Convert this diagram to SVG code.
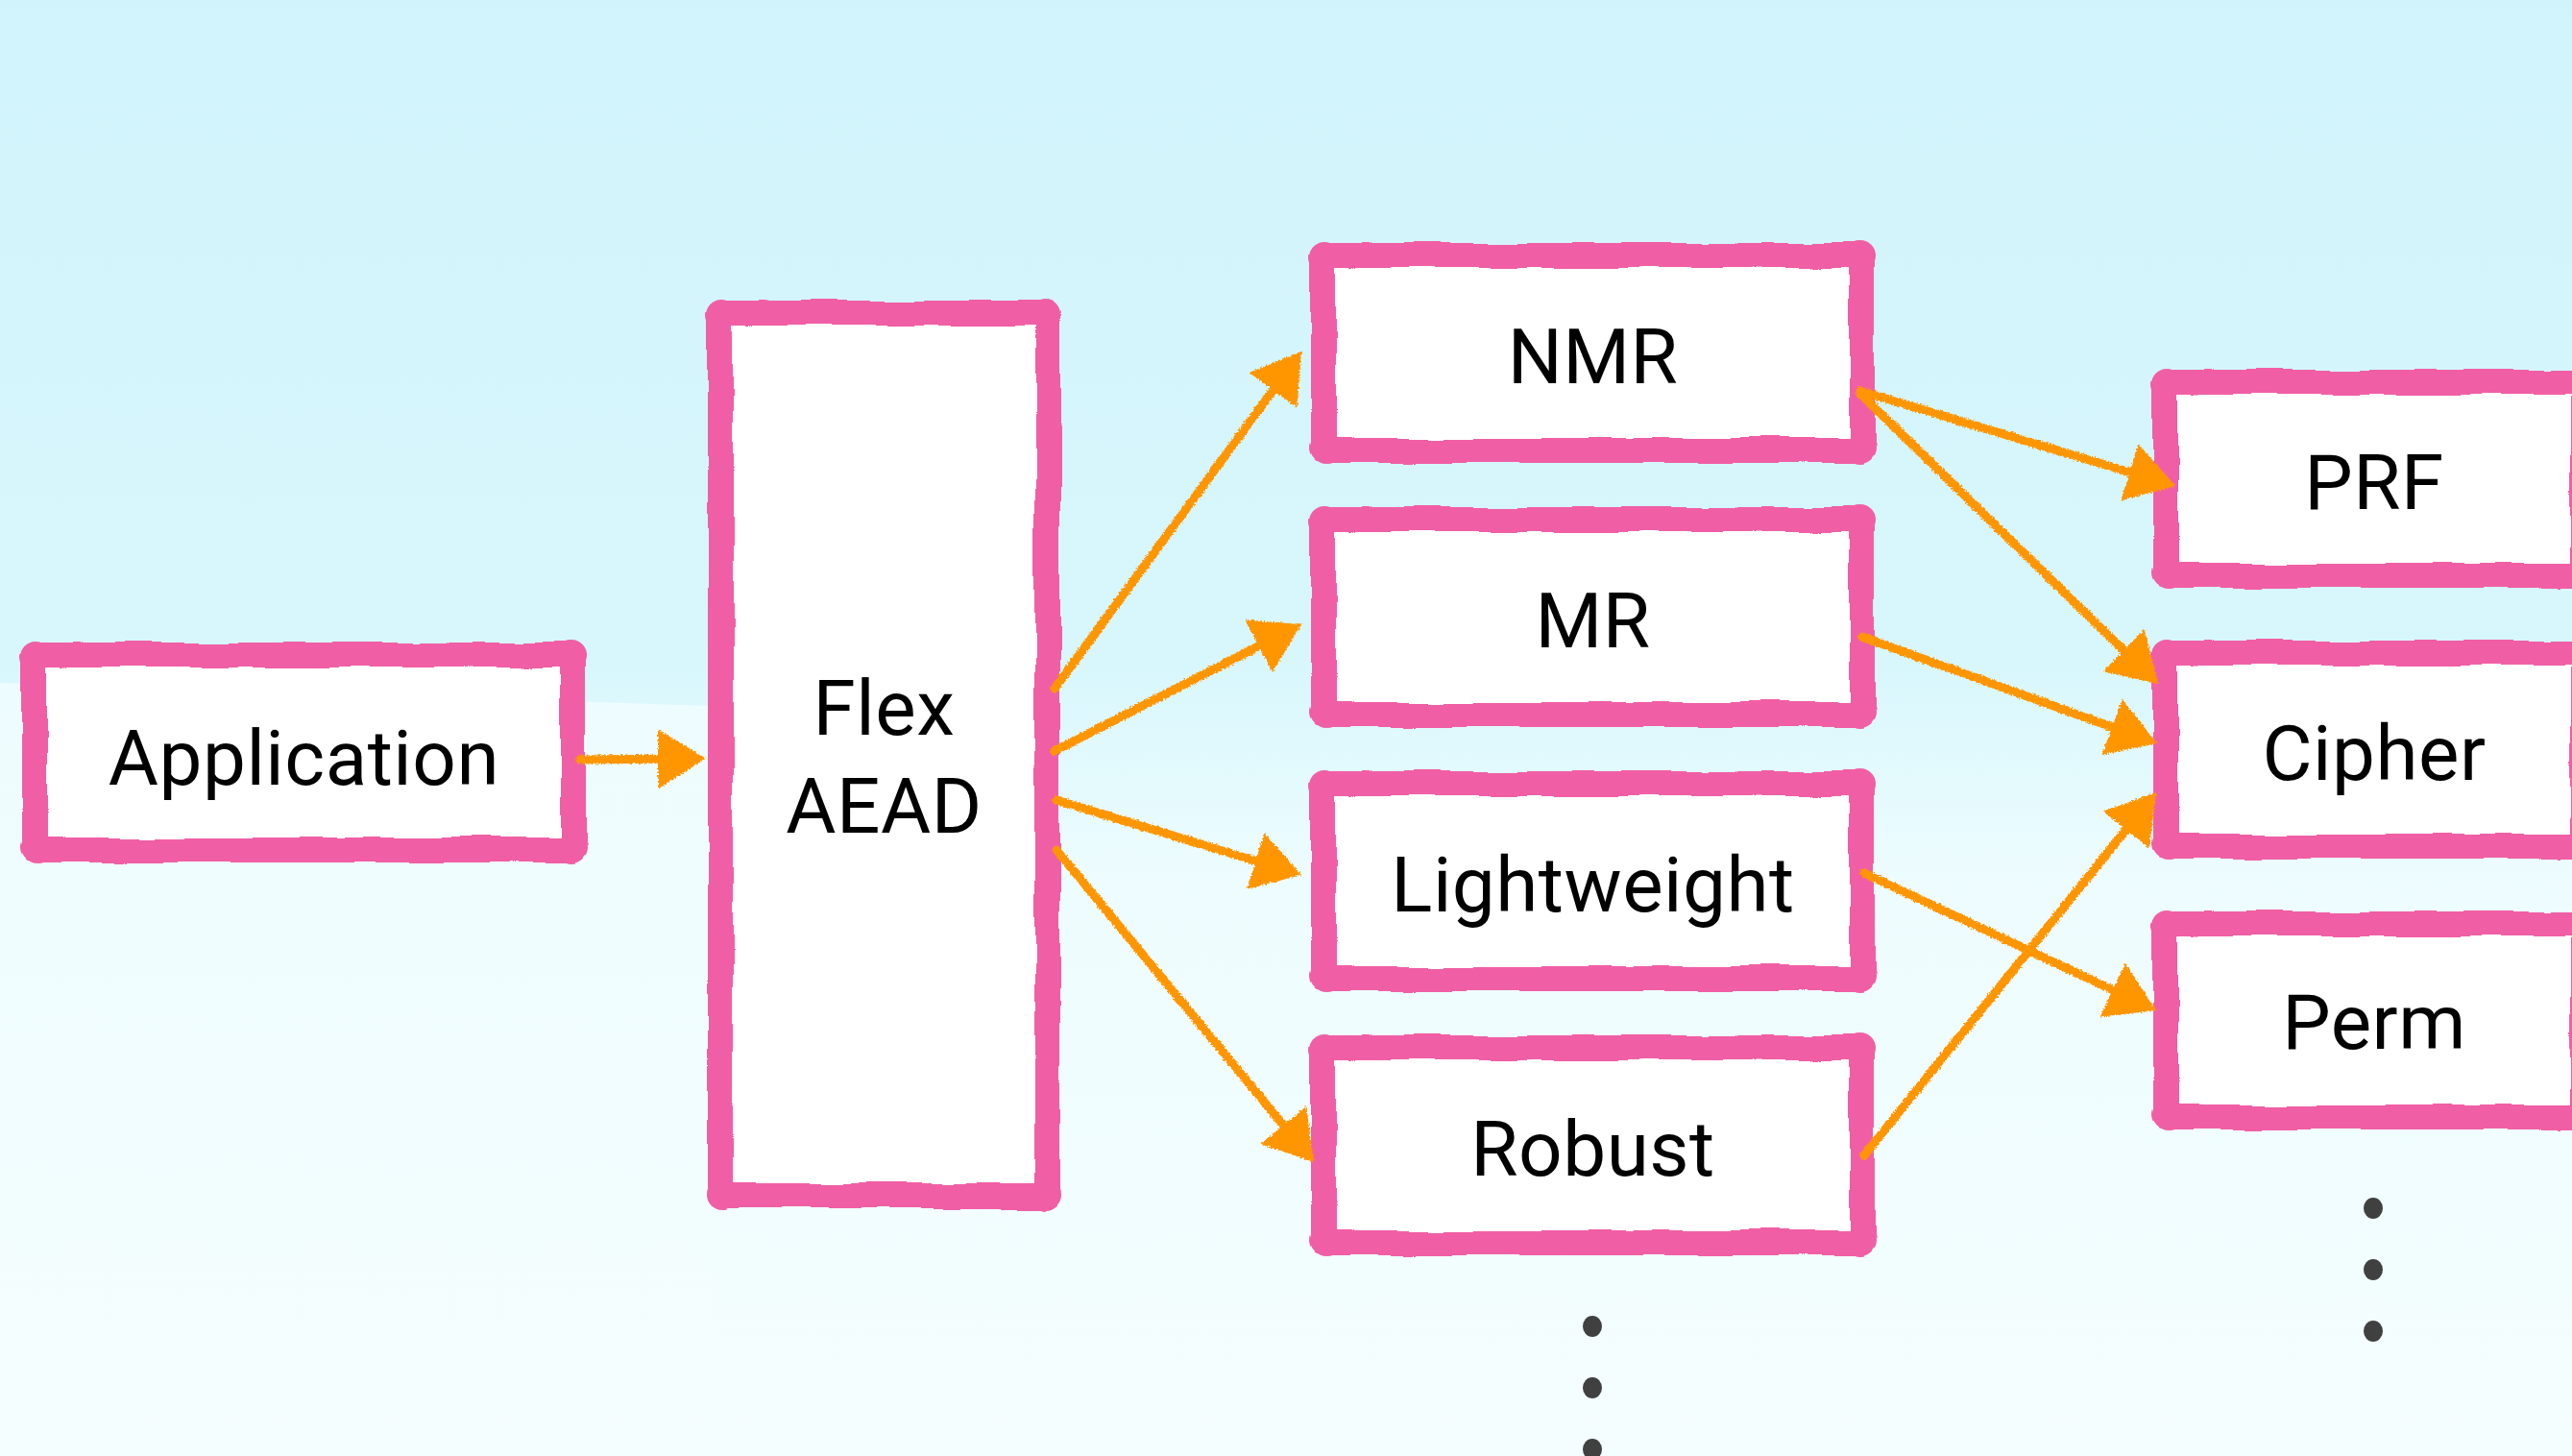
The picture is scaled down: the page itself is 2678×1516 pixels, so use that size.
<svg xmlns="http://www.w3.org/2000/svg" width="2678" height="1516" viewBox="0 0 2678 1516">
  <style>
    .lbl { font-family: Roboto, "Liberation Sans", Arial, sans-serif; font-size: 80px; letter-spacing: 0.5px; fill: #000; text-anchor: middle; }
    .edge { fill: none; stroke: #FF9600; stroke-width: 9; stroke-linecap: round; marker-end: url(#head); }
    .dot { fill: #404040; }
  </style>
  <defs>
    <linearGradient id="bg" x1="0" y1="0" x2="0" y2="1">
      <stop offset="0" stop-color="#D1F3FB"/>
      <stop offset="0.45" stop-color="#D7F7FC"/>
      <stop offset="0.6" stop-color="#EDFCFE"/>
      <stop offset="1" stop-color="#F5FEFF"/>
    </linearGradient>
    <linearGradient id="bgLow" x1="0" y1="0" x2="0" y2="1">
      <stop offset="0" stop-color="#EDFCFE"/>
      <stop offset="1" stop-color="#F5FEFF"/>
    </linearGradient>
    <filter id="rough" x="-10%" y="-10%" width="120%" height="120%">
      <feTurbulence type="fractalNoise" baseFrequency="0.013" numOctaves="2" seed="4" result="n"/>
      <feDisplacementMap in="SourceGraphic" in2="n" scale="9" xChannelSelector="R" yChannelSelector="G"/>
    </filter>
    <filter id="crayon" x="-5%" y="-5%" width="110%" height="110%">
      <feTurbulence type="fractalNoise" baseFrequency="0.55" numOctaves="1" seed="2" result="n"/>
      <feDisplacementMap in="SourceGraphic" in2="n" scale="5" xChannelSelector="R" yChannelSelector="G"/>
    </filter>
    <marker id="head" viewBox="0 0 50 62" refX="30" refY="31" markerWidth="50" markerHeight="62" markerUnits="userSpaceOnUse" orient="auto">
      <path d="M0,0 L50,31 L0,62 Z" fill="#FF9600"/>
    </marker>
    <g id="boxA">
      <rect x="13" y="13" width="561" height="203" rx="6" fill="#fff" stroke="#F05FA5" stroke-width="26"/>
      <circle cx="15" cy="15" r="16" fill="#F05FA5"/>
      <circle cx="572" cy="15" r="16" fill="#F05FA5"/>
      <circle cx="15" cy="214" r="16" fill="#F05FA5"/>
      <circle cx="572" cy="214" r="16" fill="#F05FA5"/>
    </g>
    <g id="boxB">
      <rect x="13" y="13" width="434" height="201" rx="6" fill="#fff" stroke="#F05FA5" stroke-width="26"/>
      <circle cx="15" cy="15" r="16" fill="#F05FA5"/>
      <circle cx="445" cy="15" r="16" fill="#F05FA5"/>
      <circle cx="15" cy="212" r="16" fill="#F05FA5"/>
      <circle cx="445" cy="212" r="16" fill="#F05FA5"/>
    </g>
    <g id="boxF">
      <rect x="13" y="13" width="341" height="919" rx="6" fill="#fff" stroke="#F05FA5" stroke-width="26"/>
      <circle cx="15" cy="15" r="16" fill="#F05FA5"/>
      <circle cx="352" cy="15" r="16" fill="#F05FA5"/>
      <circle cx="15" cy="930" r="16" fill="#F05FA5"/>
      <circle cx="352" cy="930" r="16" fill="#F05FA5"/>
    </g>
  </defs>

  <g id="background">
    <rect x="0" y="0" width="2678" height="1516" fill="url(#bg)"/>
    <path d="M0,711 C220,716 500,727 745,735 L745,1516 L0,1516 Z" fill="url(#bgLow)"/>
  </g>

  <g id="node-application">
    <use href="#boxA" x="23" y="669" filter="url(#rough)"/>
    <text class="lbl" x="316.5" y="817">Application</text>
  </g>
  <g id="node-flexaead">
    <use href="#boxF" x="737" y="313" filter="url(#rough)"/>
    <text class="lbl" x="920.5" y="765">Flex</text>
    <text class="lbl" x="920.5" y="867">AEAD</text>
  </g>
  <g id="node-nmr">
    <use href="#boxA" x="1365" y="253" filter="url(#rough)"/>
    <text class="lbl" x="1658.5" y="399">NMR</text>
  </g>
  <g id="node-mr">
    <use href="#boxA" x="1365" y="528" filter="url(#rough)"/>
    <text class="lbl" x="1658.5" y="674">MR</text>
  </g>
  <g id="node-lightweight">
    <use href="#boxA" x="1365" y="803" filter="url(#rough)"/>
    <text class="lbl" x="1658.5" y="949">Lightweight</text>
  </g>
  <g id="node-robust">
    <use href="#boxA" x="1365" y="1078" filter="url(#rough)"/>
    <text class="lbl" x="1658.5" y="1224">Robust</text>
  </g>
  <g id="node-prf">
    <use href="#boxB" x="2242" y="385" filter="url(#rough)"/>
    <text class="lbl" x="2472" y="530">PRF</text>
  </g>
  <g id="node-cipher">
    <use href="#boxB" x="2242" y="667" filter="url(#rough)"/>
    <text class="lbl" x="2472" y="812">Cipher</text>
  </g>
  <g id="node-perm">
    <use href="#boxB" x="2242" y="949" filter="url(#rough)"/>
    <text class="lbl" x="2472" y="1092">Perm</text>
  </g>

  <g id="ellipsis-middle">
    <ellipse class="dot" cx="1658" cy="1381" rx="10" ry="11"/>
    <ellipse class="dot" cx="1658" cy="1445" rx="10" ry="11"/>
    <ellipse class="dot" cx="1658" cy="1509" rx="10" ry="11"/>
  </g>
  <g id="ellipsis-right">
    <ellipse class="dot" cx="2471" cy="1258" rx="10" ry="11"/>
    <ellipse class="dot" cx="2471" cy="1322" rx="10" ry="11"/>
    <ellipse class="dot" cx="2471" cy="1386" rx="10" ry="11"/>
  </g>

  <g id="connectors" filter="url(#crayon)">
    <path class="edge" d="M604,791 L715,790"/>
    <path class="edge" d="M1098,717 L1343.2,382.1"/>
    <path class="edge" d="M1098,782 L1337.2,659.1"/>
    <path class="edge" d="M1100,833 L1335.9,905.2"/>
    <path class="edge" d="M1100,885 L1355.3,1194.6"/>
    <path class="edge" d="M1937,407 L2245.9,500.2"/>
    <path class="edge" d="M1937,410 L2232.7,698"/>
    <path class="edge" d="M1939,663 L2227.2,767.2"/>
    <path class="edge" d="M1941,909 L2226.9,1043.5"/>
    <path class="edge" d="M1941,1203 L2232.5,840.6"/>
  </g>
</svg>
